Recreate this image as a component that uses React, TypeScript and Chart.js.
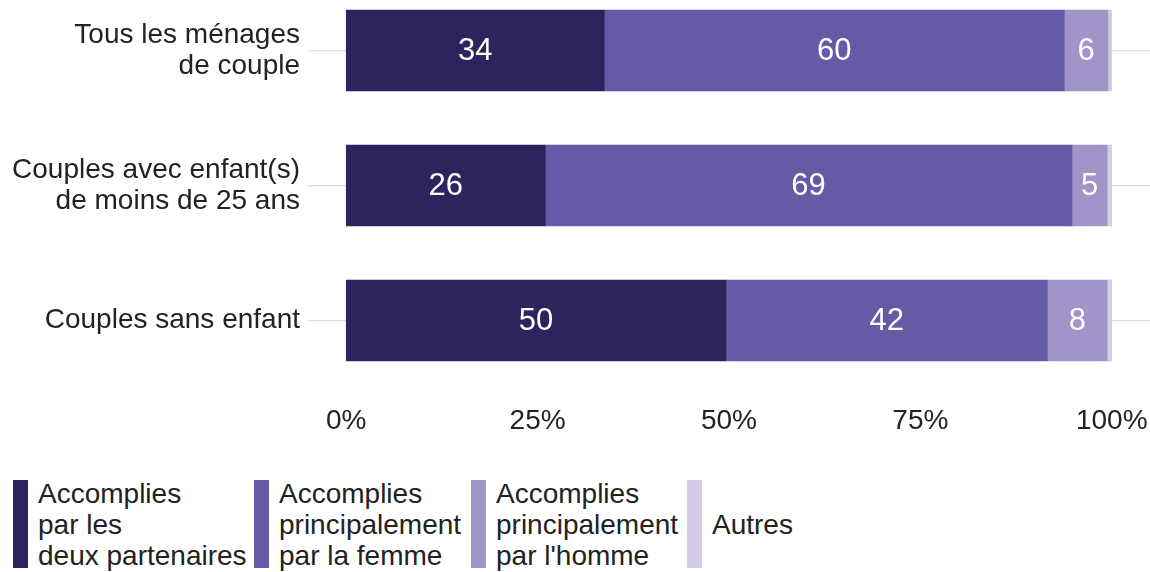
import React, { useEffect, useRef } from "react";
import { Chart, registerables } from "chart.js";

Chart.register(...registerables);

// ---- Data ----
const categories: string[][] = [
  ["Tous les ménages", "de couple"],
  ["Couples avec enfant(s)", "de moins de 25 ans"],
  ["Couples sans enfant"],
];
const seriesNames = [
  "Accomplies par les deux partenaires",
  "Accomplies principalement par la femme",
  "Accomplies principalement par l'homme",
  "Autres",
];
const legendLines: string[][] = [
  ["Accomplies", "par les", "deux partenaires"],
  ["Accomplies", "principalement", "par la femme"],
  ["Accomplies", "principalement", "par l'homme"],
  ["Autres"],
];
const deuxPartenaires = [33.7, 26.0, 49.6];
const parLaFemme = [60.1, 68.8, 42.0];
const parLHomme = [5.7, 4.6, 7.8];
const autres = [0.5, 0.6, 0.6];
const xTicks = [0, 25, 50, 75, 100];

const colors = ["#2c245c", "#655aa6", "#a094c9", "#d4cce6"];
const labelled = [true, true, true, false];

// ---- Layout constants ----
const W = 1150;
const CANVAS_H = 472;
const PLOT_BOTTOM = 395;
const ROW_PX = 135;
const FIRST_CENTER = 50.5;
const Y_MIN = 1 - FIRST_CENTER / ROW_PX;
const Y_MAX = Y_MIN + PLOT_BOTTOM / ROW_PX;
const FONT = '"Liberation Sans", Arial, Helvetica, sans-serif';
const TEXT = "#222222";

const valueLabels = {
  id: "valueLabels",
  afterDatasetsDraw(chart: any) {
    const ctx = chart.ctx;
    ctx.save();
    ctx.font = `31px ${FONT}`;
    ctx.fillStyle = "#ffffff";
    ctx.textAlign = "center";
    ctx.textBaseline = "middle";
    chart.data.datasets.forEach((ds: any, di: number) => {
      if (!labelled[di]) return;
      const meta = chart.getDatasetMeta(di);
      meta.data.forEach((bar: any, i: number) => {
        const v = ds.data[i].x;
        const p = bar.getProps(["x", "base", "y"], true);
        ctx.fillText(String(Math.round(v)), (p.x + p.base) / 2, p.y + 1);
      });
    });
    ctx.restore();
  },
};

export default function App() {
  const ref = useRef<HTMLCanvasElement | null>(null);

  useEffect(() => {
    if (!ref.current) return;
    const series = [deuxPartenaires, parLaFemme, parLHomme, autres];
    const chart = new Chart(ref.current, {
      type: "bar",
      data: {
        datasets: series.map((vals, si) => ({
          label: seriesNames[si],
          data: vals.map((v, i) => ({ x: v, y: i + 1 })),
          backgroundColor: colors[si],
          borderWidth: 0,
          barThickness: 81,
        })),
      },
      options: {
        indexAxis: "y",
        responsive: false,
        animation: false,
        devicePixelRatio: 1,
        layout: { padding: 0 },
        plugins: {
          legend: { display: false },
          tooltip: { enabled: false },
        },
        scales: {
          x: {
            type: "linear",
            stacked: true,
            min: -5,
            max: 105,
            offset: false,
            grid: { display: false },
            border: { display: false },
            afterBuildTicks: (scale: any) => {
              scale.ticks = xTicks.map((v) => ({ value: v }));
            },
            afterFit: (scale: any) => {
              scale.height = CANVAS_H - PLOT_BOTTOM;
              scale.paddingLeft = 0;
              scale.paddingRight = 0;
            },
            ticks: {
              maxRotation: 0,
              autoSkip: false,
              padding: 1,
              color: TEXT,
              font: { family: FONT, size: 28 },
              callback: (v: any) => `${v}%`,
            },
          },
          y: {
            type: "linear",
            stacked: true,
            reverse: true,
            offset: false,
            min: Y_MIN,
            max: Y_MAX,
            grid: { color: "#dedede", lineWidth: 1.3, drawTicks: false, offset: false },
            border: { display: false },
            afterBuildTicks: (scale: any) => {
              scale.ticks = categories.map((_, i) => ({ value: i + 1 }));
            },
            afterFit: (scale: any) => {
              scale.width = 308;
              scale.paddingTop = 0;
              scale.paddingBottom = 0;
            },
            ticks: {
              autoSkip: false,
              padding: 8,
              color: TEXT,
              font: { family: FONT, size: 28, lineHeight: 31 / 28 },
              callback: (v: any) => categories[Math.round(v) - 1] ?? "",
            },
          },
        },
      },
      plugins: [valueLabels],
    } as any);
    return () => chart.destroy();
  }, []);

  const swatchLeft = [13, 254, 471, 687];

  return (
    <div
      style={{
        position: "fixed",
        left: 0,
        top: 0,
        width: W,
        height: 572,
        background: "#ffffff",
        overflow: "hidden",
      }}
    >
      <canvas
        ref={ref}
        width={W}
        height={CANVAS_H}
        style={{ position: "absolute", left: 0, top: 0, width: W, height: CANVAS_H }}
      />
      {legendLines.map((lines, i) => (
        <React.Fragment key={i}>
          <div
            style={{
              position: "absolute",
              left: swatchLeft[i],
              top: 480,
              width: 15,
              height: 88,
              background: colors[i],
            }}
          />
          <div
            style={{
              position: "absolute",
              left: swatchLeft[i] + 25,
              top: lines.length === 1 ? 509 : 478,
              fontFamily: FONT,
              fontSize: 28,
              lineHeight: "31px",
              color: TEXT,
              whiteSpace: "nowrap",
            }}
          >
            {lines.map((l, j) => (
              <div key={j}>{l}</div>
            ))}
          </div>
        </React.Fragment>
      ))}
    </div>
  );
}
